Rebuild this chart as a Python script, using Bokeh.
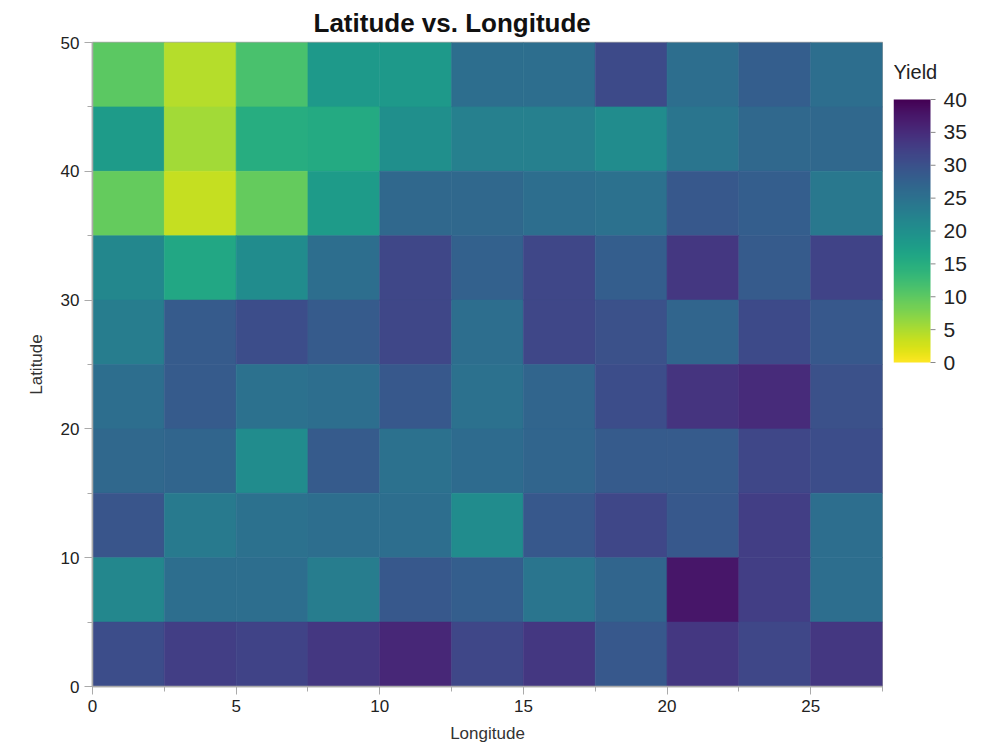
import numpy as np
from bokeh.plotting import figure
from bokeh.layouts import row
from bokeh.models import (ColumnDataSource, LinearColorMapper,
                          SingleIntervalTicker, Range1d, Title)
from bokeh.core.properties import value
from bokeh.palettes import Viridis256
from bokeh.transform import transform
from bokeh.embed import file_html
from bokeh.resources import INLINE

# ---- data ----
longitudes = [0, 2.5, 5, 7.5, 10, 12.5, 15, 17.5, 20, 22.5, 25]
latitudes = [45, 40, 35, 30, 25, 20, 15, 10, 5, 0]
yield_rows = [
    [10.0, 4.5, 11.5, 18.5, 18.5, 25.5, 25.5, 31.0, 25.5, 28.0, 25.5],   # 45-50
    [18.0, 5.5, 15.0, 15.5, 20.0, 22.5, 22.5, 20.5, 24.5, 26.5, 26.5],   # 40-45
    [9.5, 3.5, 9.5, 18.0, 26.5, 26.5, 25.5, 25.0, 29.0, 28.0, 24.0],     # 35-40
    [21.5, 16.0, 20.5, 25.5, 31.5, 27.5, 31.5, 28.0, 33.5, 28.5, 32.0],  # 30-35
    [23.0, 28.5, 30.5, 28.5, 31.5, 25.5, 31.5, 30.0, 27.0, 31.0, 29.0],  # 25-30
    [25.5, 28.5, 25.0, 25.5, 29.0, 25.0, 27.0, 30.5, 34.0, 35.0, 30.0],  # 20-25
    [26.5, 27.0, 20.5, 28.5, 25.0, 26.0, 27.0, 28.5, 28.5, 31.5, 30.5],  # 15-20
    [29.5, 23.5, 25.0, 25.5, 25.5, 20.5, 29.0, 31.5, 29.0, 32.5, 25.5],  # 10-15
    [21.5, 25.5, 25.5, 23.0, 29.0, 28.0, 24.5, 27.0, 37.5, 32.5, 25.5],  # 5-10
    [30.5, 32.5, 32.0, 33.5, 35.5, 31.5, 33.5, 29.0, 33.5, 31.5, 33.5],  # 0-5
]
legend_ticks = [0, 5, 10, 15, 20, 25, 30, 35, 40]
legend_labels = ["0", "5", "10", "15", "20", "25", "30", "35", "40"]
legend_title = "Yield"
yield_low, yield_high = 0, 40

lon_step = 2.5
lat_step = 5

left, right, bottom, top, vals = [], [], [], [], []
for lat, r in zip(latitudes, yield_rows):
    for lon, v in zip(longitudes, r):
        left.append(lon)
        right.append(lon + lon_step)
        bottom.append(lat)
        top.append(lat + lat_step)
        vals.append(v)

src = ColumnDataSource(dict(left=left, right=right, bottom=bottom, top=top, yld=vals))

mapper = LinearColorMapper(palette=list(reversed(Viridis256)), low=yield_low, high=yield_high)

FONT = "Liberation Sans"
GREY = "#aaaaaa"

FRAME_H = 644
BORDER_TOP = 42

# ---- main heatmap ----
p = figure(frame_width=790, frame_height=FRAME_H,
           x_range=Range1d(0, 27.5), y_range=Range1d(0, 50),
           output_backend="svg", toolbar_location=None,
           min_border_left=92, min_border_top=BORDER_TOP, min_border_right=1,
           min_border_bottom=10)
p.title = Title(text="Latitude vs. Longitude", align="left", offset=221,
                text_font=FONT, text_font_size="26px", text_font_style="bold",
                text_color="#111111", standoff=10)

p.quad(left="left", right="right", bottom="bottom", top="top", source=src,
       fill_color=transform("yld", mapper), line_color=transform("yld", mapper),
       line_width=0.6)

p.grid.visible = False
p.outline_line_color = GREY
p.outline_line_width = 1.5

p.xaxis.ticker = SingleIntervalTicker(interval=5, num_minor_ticks=2)
p.yaxis.ticker = SingleIntervalTicker(interval=10, num_minor_ticks=2)
p.xaxis.axis_label = "Longitude"
p.yaxis.axis_label = "Latitude"
for ax in (p.xaxis[0], p.yaxis[0]):
    ax.axis_line_color = GREY
    ax.axis_line_width = 1.5
    ax.major_tick_line_color = GREY
    ax.minor_tick_line_color = GREY
    ax.major_tick_out = 8
    ax.major_tick_in = 0
    ax.minor_tick_out = 5
    ax.minor_tick_in = 0
    ax.major_label_text_font = FONT
    ax.major_label_text_font_size = "17px"
    ax.major_label_text_color = "#222222"
    ax.axis_label_text_font = FONT
    ax.axis_label_text_font_size = "17px"
    ax.axis_label_text_font_style = "normal"
    ax.axis_label_text_color = "#333333"
    ax.major_label_standoff = 5
p.xaxis.axis_label_standoff = 9
p.yaxis.axis_label_standoff = 12
p.yaxis.major_label_orientation = "horizontal"

# ---- colour legend (small companion figure sharing the frame height) ----
BAR_PX = 263          # bar height in pixels
BAR_W = 37            # bar width in pixels
LEG_W = 92            # legend frame width in pixels
BAR_TOP_GAP = 57      # px from frame top to bar top
BAR_BOTTOM_GAP = FRAME_H - BAR_TOP_GAP - BAR_PX
TITLE_GAP = 28        # px from bar top up to legend title baseline
TICK_LEN = 5
LABEL_GAP = 13
upp = (yield_high - yield_low) / BAR_PX   # data units per pixel (vertical)
xpp = 1.0 / BAR_W                          # x units per pixel

leg = figure(frame_width=LEG_W, frame_height=FRAME_H,
             x_range=Range1d(0, LEG_W * xpp),
             y_range=Range1d(yield_low - BAR_BOTTOM_GAP * upp,
                             yield_high + BAR_TOP_GAP * upp),
             output_backend="svg", toolbar_location=None,
             min_border_left=10, min_border_top=BORDER_TOP, min_border_right=2,
             min_border_bottom=10)
gradient = np.linspace(yield_low, yield_high, 256).reshape(256, 1)
leg.image(image=[gradient], x=0, y=yield_low, dw=1, dh=yield_high - yield_low,
          color_mapper=mapper)
leg.segment(x0=[1] * len(legend_ticks), x1=[1 + TICK_LEN * xpp] * len(legend_ticks),
            y0=legend_ticks, y1=legend_ticks, line_color="#888888", line_width=1)
leg.text(x=[1 + LABEL_GAP * xpp] * len(legend_ticks), y=legend_ticks, text=legend_labels,
         text_font=value(FONT), text_font_size="21px", text_color="#222222",
         text_baseline="middle", text_align="left")
leg.text(x=[0], y=[yield_high + TITLE_GAP * upp], text=[legend_title],
         text_font=value(FONT), text_font_size="20px", text_color="#222222",
         text_baseline="alphabetic", text_align="left")
leg.grid.visible = False
leg.outline_line_color = None
leg.xaxis.visible = False
leg.yaxis.visible = False

layout = row(p, leg, spacing=0)

open("out.html", "w").write(file_html(layout, INLINE))
